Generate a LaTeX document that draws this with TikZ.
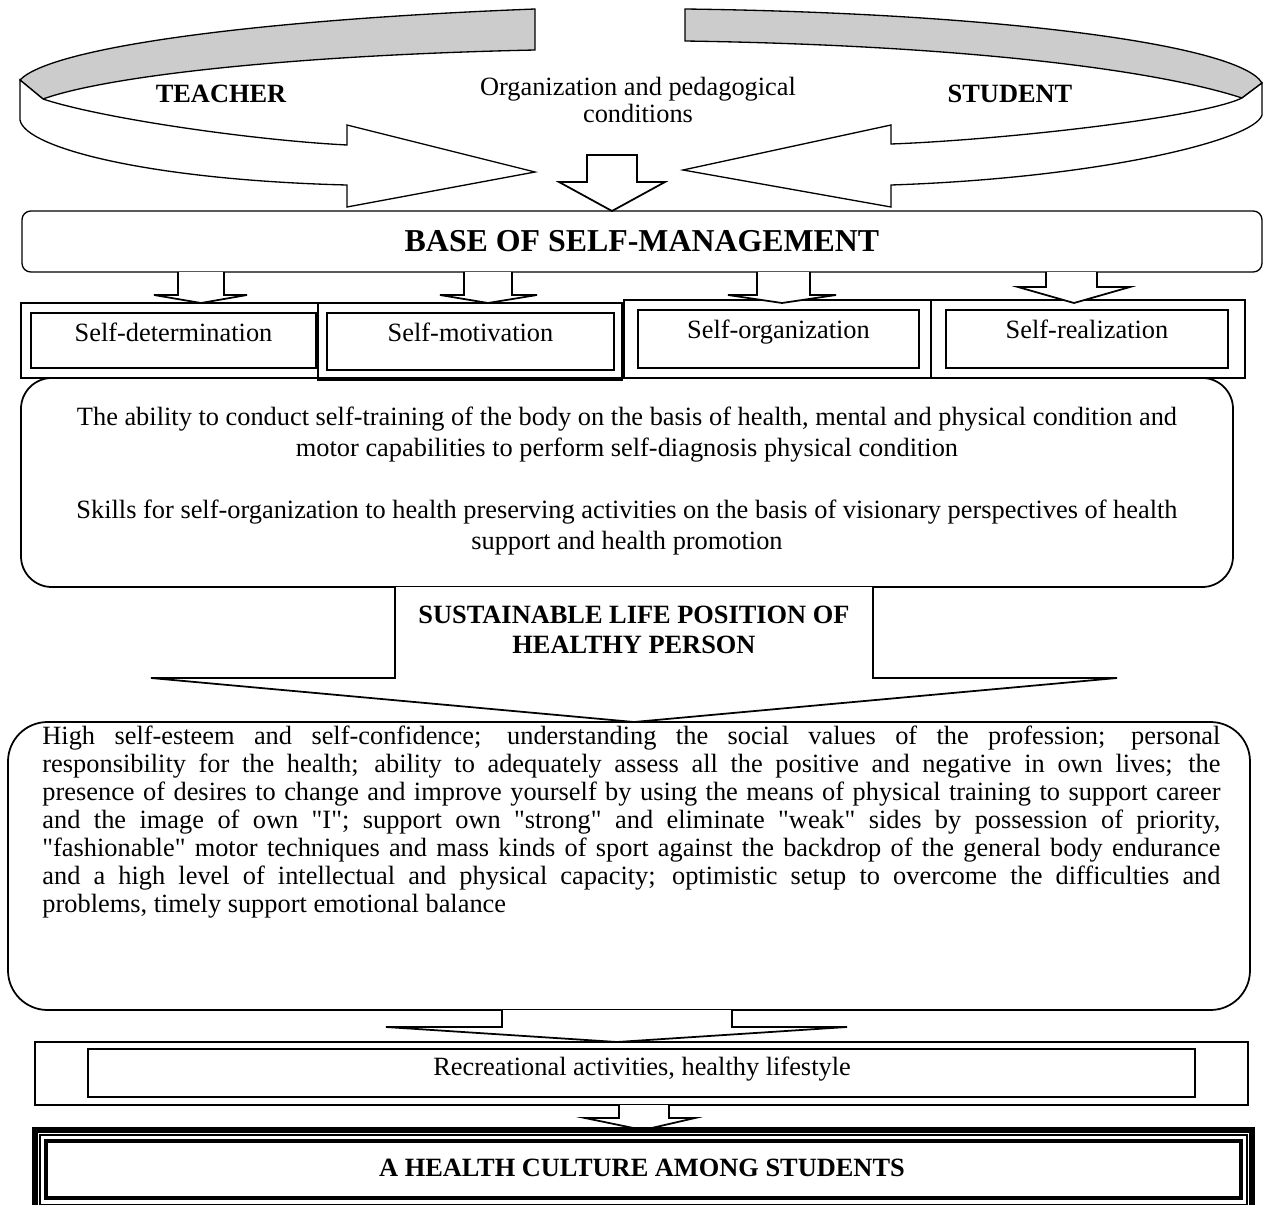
\documentclass[tikz,border=0pt]{standalone}
\usepackage{fontspec}
\setmainfont{Liberation Serif}
\usetikzlibrary{positioning,fit}

\tikzset{
  ribbonback/.style={draw=black, fill=black!20, line width=0.6pt},
  ribbonfront/.style={draw=black, fill=white, line width=0.6pt},
  blockarr/.style={draw=black, fill=white, line width=0.8pt, line join=miter},
  basebox/.style={draw=black, line width=0.6pt, rounded corners=4pt, inner sep=0pt},
  outbox/.style={draw=black, line width=0.7pt, inner sep=0pt},
  inbox/.style={draw=black, line width=1.3pt, inner sep=0pt},
  roundbox/.style={draw=black, line width=0.8pt, inner sep=0pt},
  txt/.style={inner sep=0pt, align=center},
}

\begin{document}
\begin{tikzpicture}[x=0.455pt,y=-0.455pt,font=\fontsize{12}{13.5}\selectfont]
\useasboundingbox (0,0) rectangle (1265,1205);

% ribbons on top
\filldraw[ribbonback] (535,9) .. controls (250,20) and (50,48) .. (20,80) -- (43,99)
  .. controls (110,75) and (300,55) .. (535,50) -- cycle;
\filldraw[ribbonfront] (20,80) -- (20,120) .. controls (25,148) and (150,180) .. (347,185)
  -- (347,207) -- (535,172) -- (347,125) -- (347,145)
  .. controls (250,140) and (100,118) .. (43,99) -- cycle;
\filldraw[ribbonback] (685,9) .. controls (1000,13) and (1240,45) .. (1262,83) -- (1242,98)
  .. controls (1150,68) and (950,45) .. (685,41) -- cycle;
\filldraw[ribbonfront] (1262,83) -- (1262,115) .. controls (1255,140) and (1100,178) .. (891,185)
  -- (891,207) -- (683,170) -- (891,125) -- (891,144)
  .. controls (1000,140) and (1200,118) .. (1242,98) -- cycle;

\node[txt, font=\fontsize{12}{13.5}\selectfont\bfseries] (teacher) at (221,94) {TEACHER};
\node[txt, font=\fontsize{12}{13.5}\selectfont\bfseries] (student) at (1010,94) {STUDENT};
\node[txt, font=\fontsize{12}{12.5}\selectfont] (cond) at (638,100) {Organization and pedagogical\\conditions};

% base
\node[basebox, fit={(22,211) (1262,272)}] (base) {};
\node[txt, font=\fontsize{14.5}{16}\selectfont\bfseries] (basetxt) at (base.center) {BASE OF SELF-MANAGEMENT};
\draw[blockarr] (587,155) -- (637,155) -- (637,182) -- (665,182) -- (612,211) -- (559,182) -- (587,182) -- cycle;

% four self boxes
\node[outbox, fit={(21,303) (318,378)}] (o1) {};
\node[outbox, fit={(318,303) (622,380)}] (o2) {};
\node[outbox, fit={(624,300) (931,378)}] (o3) {};
\node[outbox, fit={(931,300) (1245,378)}] (o4) {};
\node[inbox, fit={(31,313) (316,368)}] (sdet) {};
\node[inbox, fit={(327,313) (614,370)}] (smot) {};
\node[inbox, fit={(638,310) (919,368)}] (sorg) {};
\node[inbox, fit={(946,310) (1228,368)}] (sreal) {};
\node[txt, below=5pt of sdet.north] (t1) {Self-determination};
\node[txt, below=5pt of smot.north] (t2) {Self-motivation};
\node[txt, below=5pt of sorg.north] (t3) {Self-organization};
\node[txt, below=5pt of sreal.north] (t4) {Self-realization};
\draw[blockarr] (178,272) -- (178,295) -- (154,295) -- (201,303) -- (247,295) -- (224,295) -- (224,272);
\draw[blockarr] (464,272) -- (464,295) -- (440,295) -- (488,303) -- (537,295) -- (512,295) -- (512,272);
\draw[blockarr] (757,272) -- (757,295) -- (728,295) -- (782,303) -- (836,295) -- (810,295) -- (810,272);
\draw[blockarr] (1046,272) -- (1046,287) -- (1018,287) -- (1074,303) -- (1130,287) -- (1097,287) -- (1097,272);

% abilities
\node[roundbox, rounded corners=14pt, fit={(21,378) (1233,587)}] (abil) {};
\node[txt, font=\fontsize{12}{14}\selectfont] (abiltxt) at (627,481)
  {The ability to conduct self-training of the body on the basis of health, mental and physical condition and\\
   motor capabilities to perform self-diagnosis physical condition\\[14pt]
   Skills for self-organization to health preserving activities on the basis of visionary perspectives of health\\
   support and health promotion};

% big arrow
\draw[blockarr] (395,587) -- (395,678) -- (151,678) -- (634,722) -- (1117,678) -- (873,678) -- (873,587);
\node[txt, font=\fontsize{12}{13.5}\selectfont\bfseries] (posit) at (634,630) {SUSTAINABLE LIFE POSITION OF\\HEALTHY PERSON};

% qualities
\node[roundbox, rounded corners=18pt, fit={(8,722) (1250,1010)}] (qual) {};
\node[inner sep=0pt, anchor=north west, text width=1178*0.455pt, align=justify,
  font=\fontsize{12}{12.8}\selectfont] (qualtxt) at (42,725)
  {High self-esteem and self-confidence; understanding the social values of the profession; personal\linebreak
   responsibility for the health; ability to adequately assess all the positive and negative in own lives; the\linebreak
   presence of desires to change and improve yourself by using the means of physical training to support career\linebreak
   and the image of own \textquotedbl I\textquotedbl; support own \textquotedbl strong\textquotedbl\ and eliminate \textquotedbl weak\textquotedbl\ sides by possession of priority,\linebreak
   \textquotedbl fashionable\textquotedbl\ motor techniques and mass kinds of sport against the backdrop of the general body endurance\linebreak
   and a high level of intellectual and physical capacity; optimistic setup to overcome the difficulties and\linebreak
   problems, timely support emotional balance\par};

\draw[blockarr] (502,1010) -- (502,1027) -- (386,1027) -- (617,1042) -- (847,1027) -- (732,1027) -- (732,1010);

% recreation
\node[outbox, fit={(35,1042) (1248,1105)}] (recout) {};
\node[inbox, line width=1.2pt, fit={(88,1049) (1195,1097)}] (rec) {};
\node[txt] (rectxt) at (642,1069) {Recreational activities, healthy lifestyle};
\draw[blockarr] (619,1105) -- (619,1118) -- (585,1118) -- (643,1130) -- (695,1118) -- (669,1118) -- (669,1105);

% health culture
\draw[line width=2.3pt] (35,1130) rectangle (1252,1210);
\draw[line width=0.5pt] (40,1135) rectangle (1247,1205);
\node[inbox, line width=1.8pt, fit={(46,1141) (1241,1198)}] (cult) {};
\node[txt, font=\fontsize{12}{13.5}\selectfont\bfseries] (culttxt) at (642,1168) {A HEALTH CULTURE AMONG STUDENTS};
\end{tikzpicture}
\end{document}
